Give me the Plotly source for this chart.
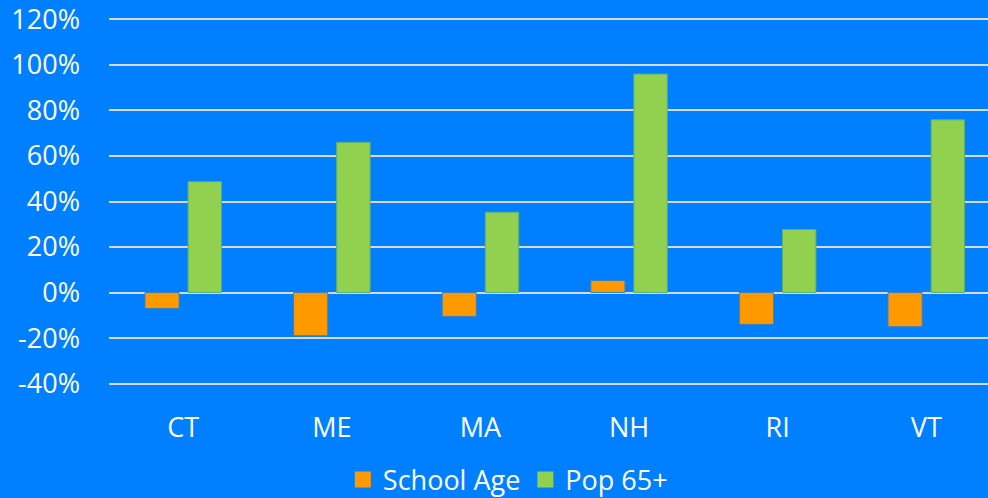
import plotly.graph_objects as go

states = ["CT", "ME", "MA", "NH", "RI", "VT"]
school_age = [-7, -19, -10.5, 5.3, -14, -15]
pop_65 = [48.7, 66, 35.3, 96, 27.7, 75.9]
tick_vals = [-40, -20, 0, 20, 40, 60, 80, 100, 120]
tick_text = [f"{v}%" for v in tick_vals]

BG = "#0080FF"
FONT = "Open Sans"
ORANGE = "#FF9900"
GREEN = "#92D050"
FS = 27

fig = go.Figure()
fig.add_trace(go.Bar(
    x=states, y=school_age, name="School Age", showlegend=False,
    marker=dict(color=ORANGE, line=dict(color="#3A7FC0", width=1)),
    width=0.23, offset=-0.258,
))
fig.add_trace(go.Bar(
    x=states, y=pop_65, name="Pop 65+", showlegend=False,
    marker=dict(color=GREEN, line=dict(color="#5FAF6A", width=1)),
    width=0.225, offset=0.032,
))
# legend entries with larger square swatches
for name, col in [("School Age", ORANGE), ("Pop 65+", GREEN)]:
    fig.add_trace(go.Scatter(
        x=[None], y=[None], mode="markers", name=name,
        marker=dict(symbol="square", size=16, color=col),
    ))

fig.update_layout(
    width=988, height=498,
    paper_bgcolor=BG, plot_bgcolor=BG,
    margin=dict(l=109, r=0, t=15.6, b=111.1, autoexpand=False),
    barmode="overlay",
    font=dict(family=FONT, color="white", size=FS),
    showlegend=True,
    legend=dict(
        orientation="h", x=0.347, y=0.036, xref="container", yref="container",
        xanchor="left", yanchor="middle",
        font=dict(size=FS, color="white", family=FONT),
        bgcolor="rgba(0,0,0,0)", itemwidth=30, traceorder="normal",
    ),
    xaxis=dict(
        range=[-0.5, 5.415], showgrid=False, zeroline=False, showline=False,
        tickfont=dict(size=FS, color="white", family=FONT),
        ticks="", ticklabelstandoff=22, automargin=False,
    ),
    yaxis=dict(
        range=[-41.5, 121.5], tickvals=tick_vals, ticktext=tick_text,
        showgrid=True, gridcolor="#D9D9D9", gridwidth=2,
        zeroline=True, zerolinecolor="#D9D9D9", zerolinewidth=2,
        showline=False, ticks="", automargin=False,
        tickfont=dict(size=FS, color="white", family=FONT),
        ticklabelstandoff=28, ticklabeloverflow="allow",
    ),
)

fig.write_html("out.html", post_script="document.body.style.margin='0';",
               config={"displayModeBar": False})
